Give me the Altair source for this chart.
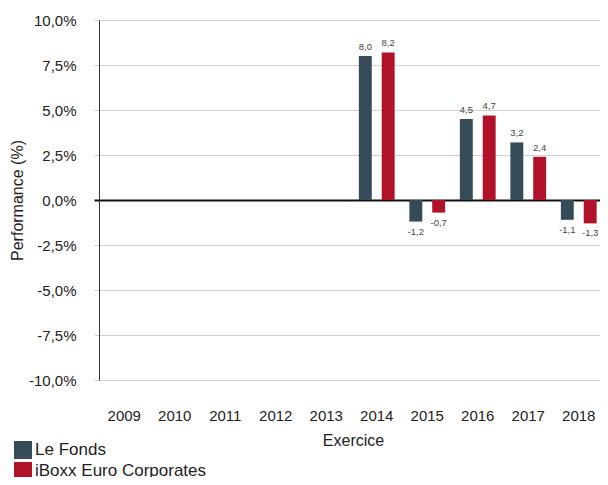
import altair as alt
import pandas as pd

years = [str(y) for y in range(2009, 2019)]
data_years = ["2014", "2015", "2016", "2017", "2018"]
fonds = [8.0, -1.2, 4.5, 3.2, -1.1]
iboxx = [8.2, -0.7, 4.7, 2.4, -1.3]
series = ["Le Fonds", "iBoxx Euro Corporates"]
colors = ["#354B57", "#B01329"]
yticks = [-10, -7.5, -5, -2.5, 0, 2.5, 5, 7.5, 10]

rows = []
for i, yr in enumerate(data_years):
    rows.append({"year": yr, "serie": series[0], "v": fonds[i]})
    rows.append({"year": yr, "serie": series[1], "v": iboxx[i]})
df = pd.DataFrame(rows)
df["label"] = df["v"].map(lambda v: f"{v:.1f}".replace(".", ","))

FONT = "Liberation Sans"

x = alt.X(
    "year:N",
    scale=alt.Scale(domain=years, paddingInner=0, paddingOuter=0, range=[0, 505]),
    axis=alt.Axis(title="Exercice", labelAngle=0, domain=False, ticks=False,
                  labelPadding=28, labelFontSize=15, titleFontSize=16,
                  titlePadding=9, labelColor="#222", titleColor="#222",
                  titleFontWeight="normal", labelFont=FONT, titleFont=FONT,
                  titleX=254),
)
xo = alt.XOffset("serie:N", scale=alt.Scale(domain=series, paddingInner=0.435, paddingOuter=0.322))
y = alt.Y(
    "v:Q",
    scale=alt.Scale(domain=[-10, 10], nice=False, zero=False),
    axis=alt.Axis(
        values=yticks, title="Performance (%)",
        labelExpr="replace(replace(format(datum.value, '.1f'), '.', ','), '\u2212', '-') + '%'",
        gridColor={"condition": {"test": "datum.value === 0", "value": "#111111"}, "value": "#cfcfcf"},
        gridWidth={"condition": {"test": "datum.value === 0", "value": 2}, "value": 1},
        tickColor={"condition": {"test": "datum.value === 0", "value": "#111111"}, "value": "#cfcfcf"},
        tickWidth={"condition": {"test": "datum.value === 0", "value": 2}, "value": 1},
        tickSize=5, labelPadding=18, labelFontSize=15, titleFontSize=16,
        titlePadding=3, domainColor="#333333", labelColor="#222", titleColor="#222",
        titleFontWeight="normal", labelFont=FONT, titleFont=FONT,
    ),
)
color = alt.Color(
    "serie:N",
    scale=alt.Scale(domain=series, range=colors),
    legend=alt.Legend(title=None, orient="none", legendX=-85, legendY=421,
                      symbolType="square", symbolSize=324, symbolStrokeWidth=0,
                      labelFontSize=17, labelColor="#222", labelFont=FONT,
                      labelLimit=400, rowPadding=3, labelOffset=3, padding=0),
)

base = alt.Chart(df)
bars = base.mark_bar().encode(x=x, xOffset=xo, y=y, color=color)
pos = base.transform_filter("datum.v >= 0").mark_text(
    baseline="bottom", dy=-4, fontSize=9.5, color="#444", font=FONT
).encode(x=x, xOffset=xo, y=y, text="label:N")
neg = base.transform_filter("datum.v < 0").mark_text(
    baseline="top", dy=5, fontSize=9.5, color="#444", font=FONT
).encode(x=x, xOffset=xo, y=y, text="label:N")

chart = alt.layer(bars, pos, neg).properties(
    width=501, height=360,
    autosize=alt.AutoSizeParams(type="none"),
    padding={"left": 91, "top": 12, "right": 0, "bottom": 97},
).configure_view(stroke=None)

chart.save("out.html", embed_options={"renderer": "svg", "actions": False})
